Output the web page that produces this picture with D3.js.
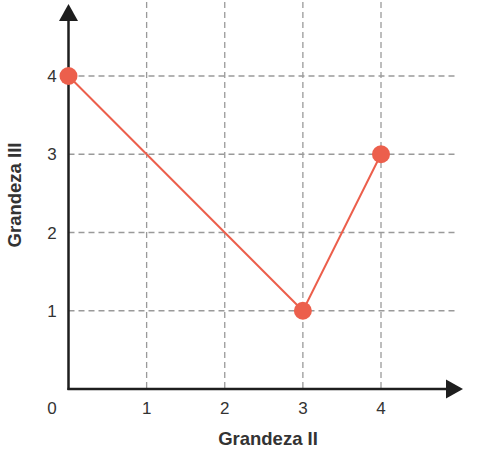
<!DOCTYPE html>
<html><head><meta charset="utf-8">
<script src="https://cdn.jsdelivr.net/npm/d3@7"></script>
<style>body{margin:0;background:#fff}svg{display:block}</style>
</head><body>
<script>
const xValues = [0, 3, 4];
const yValues = [4, 1, 3];
const xTicks = [1, 2, 3, 4];
const yTicks = [1, 2, 3, 4];
const xLabel = "Grandeza II";
const yLabel = "Grandeza III";

const W = 496, H = 454;
const svg = d3.select("body").append("svg").attr("width", W).attr("height", H);
const x = d3.scaleLinear().domain([0, 4]).range([68.5, 381]);
const y = d3.scaleLinear().domain([0, 4]).range([389, 76]);

const grid = "#9a9a9a";
// vertical grid
svg.append("g").selectAll("line").data(xTicks).join("line")
  .attr("x1", d => x(d)).attr("x2", d => x(d)).attr("y1", 2).attr("y2", y(0))
  .attr("stroke", grid).attr("stroke-width", 1.3).attr("stroke-dasharray", "6,4");
// horizontal grid
svg.append("g").selectAll("line").data(yTicks).join("line")
  .attr("x1", x(0)).attr("x2", 457).attr("y1", d => y(d)).attr("y2", d => y(d))
  .attr("stroke", grid).attr("stroke-width", 1.3).attr("stroke-dasharray", "6,4");

// axes
const ax = "#1e1e1e";
svg.append("line").attr("x1", x(0)).attr("x2", x(0)).attr("y1", y(0) + 1).attr("y2", 18)
  .attr("stroke", ax).attr("stroke-width", 2.5);
svg.append("path").attr("d", `M${x(0)},4 L${x(0) - 9.5},21 L${x(0) + 9.5},21 Z`).attr("fill", ax);
svg.append("line").attr("x1", x(0) - 1).attr("x2", 448).attr("y1", y(0)).attr("y2", y(0))
  .attr("stroke", ax).attr("stroke-width", 2.5);
svg.append("path").attr("d", `M463,${y(0)} L446,${y(0) - 9.5} L446,${y(0) + 9.5} Z`).attr("fill", ax);

const font = "'Liberation Sans', Arial, sans-serif";
const tickSize = 17;
// tick labels
svg.append("g").selectAll("text").data(xTicks).join("text")
  .attr("x", d => x(d)).attr("y", 414).attr("text-anchor", "middle")
  .attr("font-family", font).attr("font-size", tickSize).attr("fill", "#333").text(d => d);
svg.append("text").attr("x", 52).attr("y", 414).attr("text-anchor", "middle")
  .attr("font-family", font).attr("font-size", tickSize).attr("fill", "#333").text("0");
svg.append("g").selectAll("text").data(yTicks).join("text")
  .attr("x", 52).attr("y", d => y(d) + 6).attr("text-anchor", "middle")
  .attr("font-family", font).attr("font-size", tickSize).attr("fill", "#333").text(d => d);

// axis labels
svg.append("text").attr("x", 268).attr("y", 445).attr("text-anchor", "middle")
  .attr("font-family", font).attr("font-size", 18.5).attr("font-weight", "bold").attr("fill", "#333").text(xLabel);
svg.append("text").attr("transform", "translate(21,195) rotate(-90)").attr("text-anchor", "middle")
  .attr("font-family", font).attr("font-size", 18.5).attr("font-weight", "bold").attr("fill", "#333").text(yLabel);

// data
const pts = xValues.map((v, i) => [v, yValues[i]]);
const red = "#ec5f4c";
svg.append("path").datum(pts)
  .attr("d", d3.line().x(d => x(d[0])).y(d => y(d[1])))
  .attr("fill", "none").attr("stroke", red).attr("stroke-width", 2);
svg.append("g").selectAll("circle").data(pts).join("circle")
  .attr("cx", d => x(d[0])).attr("cy", d => y(d[1])).attr("r", 9).attr("fill", red);
</script>
</body></html>
